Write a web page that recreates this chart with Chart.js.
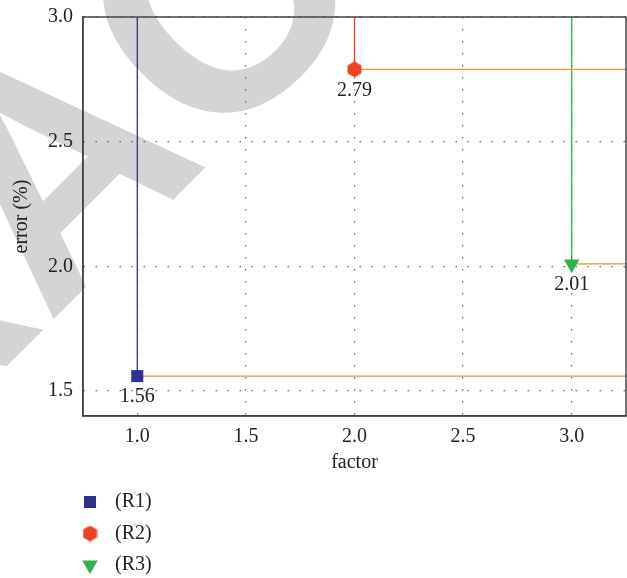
<!DOCTYPE html>
<html>
<head>
<meta charset="utf-8">
<script src="https://cdn.jsdelivr.net/npm/chart.js@4.4.0/dist/chart.umd.min.js"></script>
<style>
  html, body { margin: 0; padding: 0; background: #fff; }
  #wrap { width: 627px; height: 578px; }
</style>
</head>
<body>
<div id="wrap"><canvas id="chart" width="627" height="578"></canvas></div>
<script>
// data
const names = ["(R1)", "(R2)", "(R3)"];
const factors = [1.0, 2.0, 3.0];
const errors = [1.56, 2.79, 2.01];
const xTicks = [1.0, 1.5, 2.0, 2.5, 3.0];
const yTicks = [1.5, 2.0, 2.5, 3.0];

const xMin = 0.75, xMax = 3.25;
const yMin = 1.4, yMax = 3.0;

const colors = ["#2e3192", "#ef4123", "#2db34a"];
const orange = "#f7941d";
const serif = "'Liberation Serif', 'Times New Roman', serif";
const fontSize = 20;

// hexagon marker, pointy top
function hexagon(fill)
{
    const c = document.createElement("canvas");
    c.width = 15;
    c.height = 16;
    const g = c.getContext("2d");
    g.fillStyle = fill;
    g.beginPath();
    for (let i = 0; i < 6; i++)
    {
        const a = -Math.PI / 2 + i * Math.PI / 3;
        const px = 7.5 + 8 * Math.cos(a);
        const py = 8 + 8 * Math.sin(a);
        if (i === 0) g.moveTo(px, py); else g.lineTo(px, py);
    }
    g.closePath();
    g.fill();
    return c;
}

const markers = [
    { pointStyle: "rect", radius: 8.5, rotation: 0 },
    { pointStyle: hexagon(colors[1]), radius: 8, rotation: 0 },
    { pointStyle: "triangle", radius: 9, rotation: 180 }
];

let datasets = [];
// marker datasets first so they are drawn on top
for (let i = 0; i < names.length; i++)
{
    datasets.push({
        type: "scatter",
        label: names[i],
        data: [{ x: factors[i], y: errors[i] }],
        backgroundColor: colors[i],
        borderColor: colors[i],
        borderWidth: 0,
        pointStyle: markers[i].pointStyle,
        pointRadius: markers[i].radius,
        pointRotation: markers[i].rotation
    });
}
// guide lines: up to the top in the series colour, then right in orange
for (let i = 0; i < names.length; i++)
{
    const col = colors[i];
    datasets.push({
        type: "line",
        label: "guide" + i,
        data: [
            { x: factors[i], y: yMax },
            { x: factors[i], y: errors[i] },
            { x: xMax, y: errors[i] }
        ],
        borderWidth: 1.3,
        pointRadius: 0,
        fill: false,
        tension: 0,
        segment: {
            borderColor: ctx => ctx.p0DataIndex === 0 ? col : orange
        }
    });
}

const watermark = {
    id: "watermark",
    beforeDraw(chart)
    {
        const ctx = chart.ctx;
        ctx.save();
        ctx.font = "bold 320px 'Liberation Sans', Arial, sans-serif";
        ctx.fillStyle = "#d4d4d4";
        ctx.translate(48, 325);
        ctx.rotate(-Math.PI / 4);
        const pre = ctx.measureText("RETR").width;
        ctx.textBaseline = "alphabetic";
        ctx.fillText("RETRACTED", -pre, 0);
        ctx.restore();
    }
};

const frame = {
    id: "frame",
    afterDraw(chart)
    {
        const ctx = chart.ctx;
        const a = chart.chartArea;
        ctx.save();
        ctx.strokeStyle = "#444";
        ctx.lineWidth = 1.5;
        ctx.strokeRect(a.left, a.top, a.right - a.left, a.bottom - a.top);
        ctx.restore();
    }
};

const valueLabels = {
    id: "valueLabels",
    afterDatasetsDraw(chart)
    {
        const ctx = chart.ctx;
        const xs = chart.scales.x, ys = chart.scales.y;
        ctx.save();
        ctx.font = fontSize + "px " + serif;
        ctx.fillStyle = "#222";
        ctx.textAlign = "center";
        ctx.textBaseline = "middle";
        for (let i = 0; i < errors.length; i++)
        {
            const px = xs.getPixelForValue(factors[i]);
            const py = ys.getPixelForValue(errors[i]);
            ctx.fillText(errors[i].toFixed(2), px, py + 21);
        }
        ctx.restore();
    }
};

const listLegend = {
    id: "listLegend",
    afterDraw(chart)
    {
        const ctx = chart.ctx;
        const top = chart.chartArea.bottom + 86;
        ctx.save();
        ctx.font = fontSize + "px " + serif;
        ctx.textBaseline = "middle";
        ctx.textAlign = "left";
        for (let i = 0; i < names.length; i++)
        {
            const y = top + i * 31.5;
            ctx.fillStyle = colors[i];
            ctx.strokeStyle = colors[i];
            Chart.helpers.drawPoint(ctx, {
                pointStyle: markers[i].pointStyle,
                radius: markers[i].radius,
                rotation: markers[i].rotation,
                borderWidth: 0
            }, 90, y);
            ctx.fillStyle = "#222";
            ctx.fillText(names[i], 115, y);
        }
        ctx.restore();
    }
};

const gridStyle = {
    color: "#666",
    lineWidth: 1.2,
    drawTicks: false
};

new Chart(document.getElementById("chart"), {
    data: { datasets: datasets },
    plugins: [watermark, valueLabels, frame, listLegend],
    options: {
        responsive: false,
        animation: false,
        layout: { autoPadding: false, padding: { left: 10, top: 17, right: 1, bottom: 103 } },
        plugins: {
            legend: { display: false },
            tooltip: { enabled: false }
        },
        scales: {
            x: {
                type: "linear",
                min: xMin,
                max: xMax,
                afterBuildTicks: axis => { axis.ticks = xTicks.map(v => ({ value: v })); },
                afterFit: axis => {
                    axis.height = 59;
                    axis.paddingLeft = 0;
                    axis.paddingRight = 0;
                },
                ticks: {
                    callback: v => v.toFixed(1),
                    font: { family: serif, size: fontSize },
                    color: "#222",
                    padding: 9
                },
                grid: gridStyle,
                border: { display: true, color: "#444", width: 1.5, dash: [1.5, 10.5] },
                title: {
                    display: true,
                    text: "factor",
                    font: { family: serif, size: fontSize },
                    color: "#222",
                    padding: { top: 0, bottom: 0 }
                }
            },
            y: {
                type: "linear",
                min: yMin,
                max: yMax,
                afterBuildTicks: axis => { axis.ticks = yTicks.map(v => ({ value: v })); },
                afterFit: axis => {
                    axis.width = 73;
                    axis.paddingTop = 0;
                    axis.paddingBottom = 0;
                },
                ticks: {
                    callback: v => v.toFixed(1),
                    font: { family: serif, size: fontSize },
                    color: "#222",
                    padding: 10
                },
                grid: gridStyle,
                border: { display: true, color: "#444", width: 1.5, dash: [1.5, 10.5] },
                title: {
                    display: true,
                    text: "error (%)",
                    font: { family: serif, size: fontSize },
                    color: "#222",
                    padding: { top: 0, bottom: 3 }
                }
            }
        }
    }
});
</script>
</body>
</html>
